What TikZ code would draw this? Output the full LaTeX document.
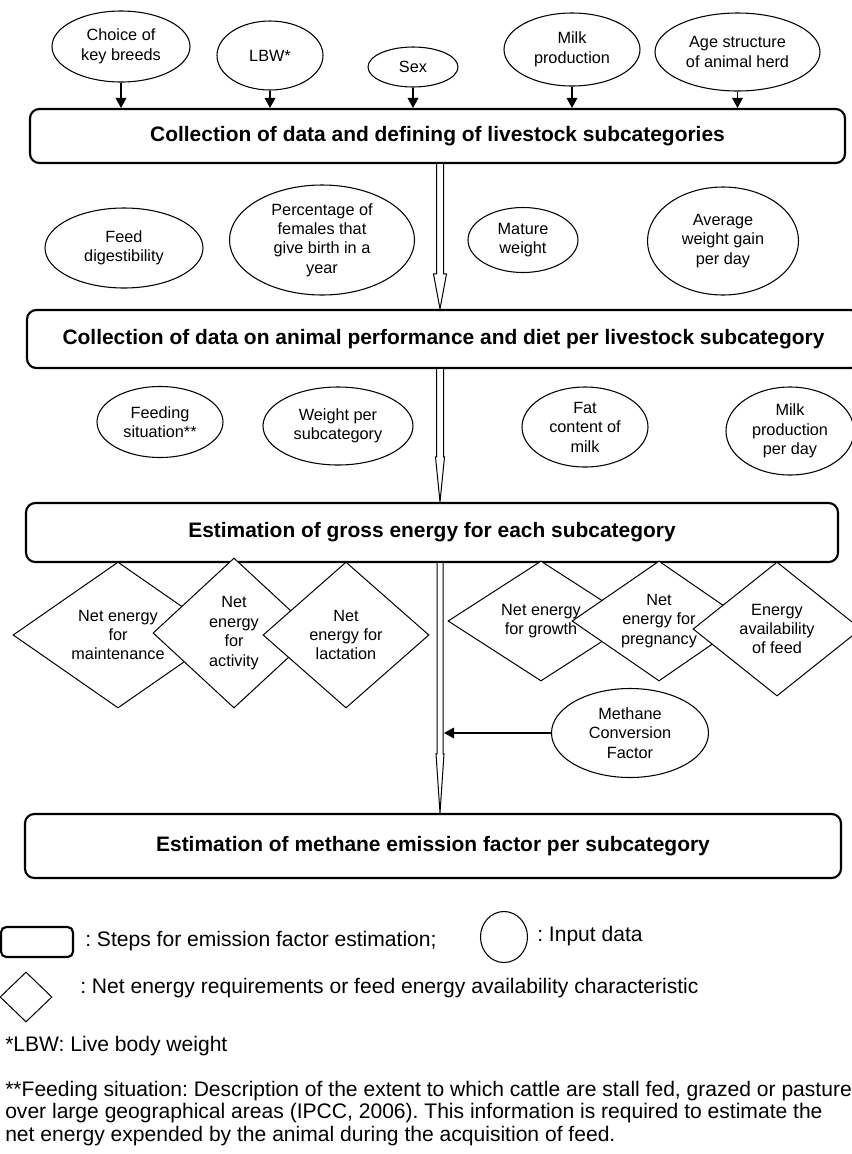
\documentclass[tikz,border=0pt]{standalone}
\usepackage{fontspec}
\setmainfont{Liberation Sans}
\usetikzlibrary{shapes.geometric,arrows.meta,calc}
\frenchspacing

\begin{document}
\begin{tikzpicture}[x=0.75pt,y=0.75pt,yscale=-1,xscale=1,
  indata/.style={draw, ellipse, line width=0.8pt, inner sep=0pt, align=center, font=\fontsize{12.2}{14.6}\selectfont},
  energy/.style={draw, diamond, fill=white, line width=0.75pt, inner sep=0pt, shape aspect=1.4, align=center, font=\fontsize{12.2}{14.6}\selectfont},
  stepbox/.style={draw, rounded corners=7pt, line width=1.6pt, inner sep=0pt, font=\fontsize{15.7}{18}\selectfont\bfseries},
  feed/.style={line width=0.9pt, -{Triangle[length=7.5pt,width=8pt]}},
  hollow/.style={line width=0.75pt, fill=white},
  note/.style={anchor=west, inner sep=0pt, align=left, font=\fontsize{15.8}{16.9}\selectfont}]
\useasboundingbox (0,0) rectangle (852,1154);

%Shape: Ellipse [inputs to step 1]
\node [indata, minimum width=103.5pt, minimum height=53.25pt] (choice) at (121,46.5) {Choice of\\key breeds};
\node [indata, minimum width=79.5pt, minimum height=51.75pt] (lbw) at (270,55.5) {LBW*};
\node [indata, minimum width=67.5pt, minimum height=30pt] (sex) at (413,67) {Sex};
\node [indata, minimum width=102pt, minimum height=54.75pt] (milk) at (572,49.5) {Milk\\production};
\node [indata, minimum width=123.75pt, minimum height=58.5pt] (age) at (737.5,52) {Age structure\\of animal herd};

%Shape: Rounded Rectangle [steps]
\node [stepbox, minimum width=611.25pt, minimum height=40.5pt] (step1) at (437.5,136) {Collection of data and defining of livestock subcategories};
\node [stepbox, minimum width=624.75pt, minimum height=43.5pt] (step2) at (443.5,339) {Collection of data on animal performance and diet per livestock subcategory};
\node [stepbox, minimum width=609pt, minimum height=44.25pt] (step3) at (432,532.5) {Estimation of gross energy for each subcategory};
\node [stepbox, minimum width=612pt, minimum height=48pt] (step4) at (433,846) {Estimation of methane emission factor per subcategory};

% inputs -> step 1
\foreach \src in {choice,lbw,sex,milk,age}
  \draw [feed] (\src.south) -- (\src.south |- step1.north);

%Shape: Ellipse [inputs to step 2]
\node [indata, minimum width=118.5pt, minimum height=60pt] (digest) at (124,248) {Feed\\digestibility};
\node [indata, minimum width=138.75pt, minimum height=82.5pt] (births) at (322,240) {Percentage of\\females that\\give birth in a\\year};
\node [indata, minimum width=82.5pt, minimum height=48.75pt] (mature) at (523,240) {Mature\\weight};
\node [indata, minimum width=113.25pt, minimum height=81pt] (gain) at (723,241) {Average\\weight gain\\per day};

%Shape: Ellipse [inputs to step 3]
\node [indata, minimum width=94.5pt, minimum height=53.25pt] (feeding) at (160,422) {Feeding\\situation**};
\node [indata, minimum width=112.5pt, minimum height=58.5pt] (weight) at (338,426) {Weight per\\subcategory};
\node [indata, minimum width=94.5pt, minimum height=60pt] (fat) at (585,427) {Fat\\content of\\milk};
\node [indata, minimum width=96pt, minimum height=66pt] (milkday) at (790,431) {Milk\\production\\per day};

%Shape: Diamond [net energy]
\node [energy, minimum width=157.5pt, minimum height=109.5pt] (nemaint) at (118,635) {Net energy\\for\\maintenance};
\node [energy, minimum width=121.5pt, minimum height=112.5pt] (neact) at (234,633) {Net\\energy\\for\\activity};
\node [energy, minimum width=124.5pt, minimum height=109.5pt] (nelact) at (346,635) {Net\\energy for\\lactation};
\node [energy, minimum width=139.5pt, minimum height=90pt] (negrowth) at (541,621) {Net energy\\for growth};
\node [energy, minimum width=130.5pt, minimum height=90pt] (nepreg) at (659,621) {Net\\energy for\\pregnancy};
\node [energy, minimum width=126pt, minimum height=100.5pt] (feedavail) at (777,629) {Energy\\availability\\of feed};

%Shape: Ellipse [methane conversion factor]
\node [indata, minimum width=117.75pt, minimum height=66.75pt] (mcf) at (630,733) {Methane\\Conversion\\Factor};

% main flow (hollow arrows)
\coordinate (spine) at (440,0);
\coordinate (a1) at (spine |- step1.south);
\coordinate (t1) at (spine |- step2.north);
\coordinate (a2) at (spine |- step2.south);
\coordinate (t2) at (spine |- step3.north);
\coordinate (a3) at (spine |- step3.south);
\coordinate (t3) at (spine |- step4.north);
\draw [hollow] ($(a1)+(-3.5,0)$) -- ($(t1)+(-3.5,-35)$) -- ($(t1)+(-6.5,-35)$) -- (t1) -- ($(t1)+(6.5,-35)$) -- ($(t1)+(3.5,-35)$) -- ($(a1)+(3.5,0)$);
\draw [hollow] ($(a2)+(-3.5,0)$) -- ($(t2)+(-3.5,-45)$) -- ($(t2)+(-4.5,-45)$) -- (t2) -- ($(t2)+(4.5,-45)$) -- ($(t2)+(3.5,-45)$) -- ($(a2)+(3.5,0)$);
\draw [hollow] ($(a3)+(-3,0)$) -- ($(t3)+(-3,-59)$) -- ($(t3)+(-4,-59)$) -- (t3) -- ($(t3)+(4,-59)$) -- ($(t3)+(3,-59)$) -- ($(a3)+(3,0)$);

% methane conversion factor -> flow
\coordinate (tap) at (444,733);
\draw [feed] (mcf) -- (tap);

% Legend
\node [stepbox, minimum width=54pt, minimum height=22.5pt, rounded corners=4pt] (keystep) at (37,942) {};
\node [note] (keysteptext) at (85,941) {: Steps for emission factor estimation;};
\node [indata, minimum width=35.25pt, minimum height=38.25pt] (keydata) at (504,937) {};
\node [note] (keydatatext) at (537,936) {: Input data};
\node [energy, minimum width=39pt, minimum height=37.5pt] (keyenergy) at (26,997) {};
\node [note] (keyenergytext) at (80,988) {: Net energy requirements or feed energy availability characteristic};
\node [note] (lbwnote) at (5,1046) {*LBW: Live body weight};
\node [note] (feedingnote) at (5,1113.5) {**Feeding situation: Description of the extent to which cattle are stall fed, grazed or pasture\\over large geographical areas (IPCC, 2006). This information is required to estimate the\\net energy expended by the animal during the acquisition of feed.};

\end{tikzpicture}
\end{document}
